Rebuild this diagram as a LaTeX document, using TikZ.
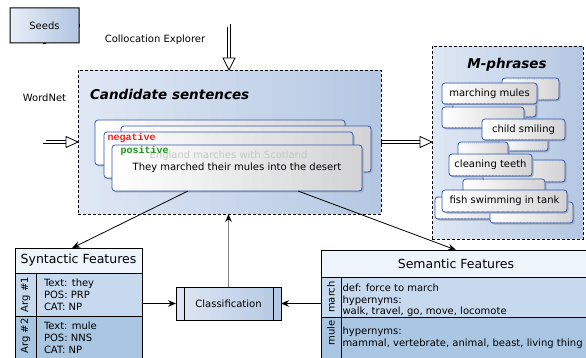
\documentclass[tikz,border=0pt]{standalone}
\usepackage{fontspec}
\setmainfont{DejaVu Sans}
\setmonofont{Liberation Mono}
\usetikzlibrary{arrows.meta,calc}
\definecolor{cardblue}{HTML}{3158B2}
\definecolor{bgl}{HTML}{DFE7F4}
\definecolor{bgr}{HTML}{B5C8E3}
\definecolor{seedl}{HTML}{E8EEF8}
\definecolor{seedr}{HTML}{B3C6E2}
\definecolor{hdrfill}{HTML}{EEF4FC}
\definecolor{rowa}{HTML}{C6D9EE}
\definecolor{rowb}{HTML}{A9C6E2}
\definecolor{negred}{HTML}{FF1A1A}
\definecolor{posgreen}{HTML}{1E961E}
\definecolor{shadowc}{HTML}{A3ACBA}
\definecolor{cardl}{HTML}{FFFFFF}
\definecolor{cardr}{HTML}{D4D4D6}
\tikzset{hgrad/.style 2 args={path picture={
  \foreach \i in {0,...,24}{
    \pgfmathsetmacro\gt{\i*100/24}
    \colorlet{gcol}{#2!\gt!#1}
    \fill[gcol] ($(path picture bounding box.north west)!{\i/25}!(path picture bounding box.north east)$)
      rectangle ($(path picture bounding box.south west)!{(\i+1.4)/25}!(path picture bounding box.south east)$);
  }}}}
\begin{document}
\begin{tikzpicture}[x=1pt,y=-1pt,
  every node/.style={inner sep=0pt,outer sep=0pt},
  txt/.style={font=\fontsize{10}{12}\selectfont},
  card/.style={draw=cardblue,line width=0.8pt,rounded corners=3pt,
    hgrad={cardl}{cardr},
    preaction={draw=none,fill=shadowc,transform canvas={xshift=1.5pt,yshift=-1.5pt}},
    anchor=north west,font=\fontsize{10}{12}\selectfont},
  bigbox/.style={draw,line width=0.8pt,dash pattern=on 3pt off 2pt,
    hgrad={bgl}{bgr},anchor=north west},
  dblout/.style={draw=black,line width=3.9pt},
  dblin/.style={draw=white,line width=2.3pt},
  tipshape/.style={draw=black,fill=white,line width=0.8pt,line join=miter},
  arr/.style={draw,line width=0.8pt,-{Stealth[length=8pt,width=6.5pt]}},
  cell/.style={draw,line width=0.8pt,anchor=north west},
  hdr/.style={cell,fill=hdrfill,font=\fontsize{12.5}{14}\selectfont},
  rowA/.style={cell,fill=rowa},
  rowB/.style={cell,fill=rowb},
  lab/.style={txt,rotate=90},
  mono/.style={font=\ttfamily\bfseries\fontsize{10}{12}\selectfont,anchor=west}
]
\useasboundingbox (0,0) rectangle (586,358);

% Seeds
\node[hgrad={seedl}{seedr},anchor=north west,minimum width=69pt,minimum height=35pt,txt] (seeds) at (10,8) {Seeds};
\fill[black,even odd rule]
  ([shift={(-0.5pt,0.5pt)}]seeds.north west) rectangle ([shift={(0.5pt,-0.5pt)}]seeds.south east)
  ([shift={(0.5pt,-0.5pt)}]seeds.north west) rectangle ([shift={(-0.5pt,0.5pt)}]seeds.south east);

% big boxes
\node[bigbox,minimum width=303pt,minimum height=144pt] (cand) at (78,70) {};
\node[anchor=west,font=\bfseries\itshape\fontsize{13.5}{16}\selectfont] (candt) at (90,94) {Candidate sentences};
\node[bigbox,minimum width=151pt,minimum height=193pt] (mph) at (432,46) {};
\node[font=\bfseries\itshape\fontsize{13.5}{16}\selectfont] (mpht) at (507,65) {M-phrases};

% connectors from seeds
\coordinate (cx) at (229,70);
\coordinate (k1) at (seeds.east -| cx);
\coordinate (k2) at (seeds.south |- cand.west);
\coordinate (mw) at (cand.east -| mph.west);
% filled version of the double lines
\fill[black] ([yshift=1.95pt]seeds.east) rectangle ([shift={(1.95pt,-1.95pt)}]k1);
\fill[black] ([shift={(-1.95pt,1.95pt)}]k1) rectangle ([shift={(1.95pt,11pt)}]cx);
\fill[black] ([xshift=-1.95pt]seeds.south) rectangle ([shift={(1.95pt,-1.95pt)}]k2);
\fill[black] ([shift={(-1.95pt,1.95pt)}]k2) rectangle ([shift={(-11pt,-1.95pt)}]cand.west);
\fill[white] ([shift={(0.6pt,1.15pt)}]seeds.east) rectangle ([shift={(1.15pt,-1.15pt)}]k1);
\fill[white] ([shift={(-1.15pt,1.15pt)}]k1) rectangle ([shift={(1.15pt,11pt)}]cx);
\fill[white] ([shift={(-1.15pt,-0.6pt)}]seeds.south) rectangle ([shift={(1.15pt,-1.15pt)}]k2);
\fill[white] ([shift={(-1.15pt,1.15pt)}]k2) rectangle ([shift={(-11pt,-1.15pt)}]cand.west);
% stroked version
\draw[dblout] (seeds.east) -- (k1) -- ([yshift=11.5pt]cx);
\draw[dblout] (seeds.south) -- (k2) -- ([xshift=-11.5pt]cand.west);
\draw[dblout] (cand.east) -- ([xshift=-11.5pt]mw);
\draw[dblin,shorten <=0.6pt] (seeds.east) -- (k1) -- ([yshift=11.5pt]cx);
\draw[dblin,shorten <=0.6pt] (seeds.south) -- (k2) -- ([xshift=-11.5pt]cand.west);
\draw[dblin,shorten <=0.8pt] (cand.east) -- ([xshift=-11.5pt]mw);
\draw[tipshape] (cx) -- ++(-6,-12) -- ++(12,0) -- cycle;
\draw[tipshape] (cand.west) -- ++(-12,-5.5) -- ++(0,11) -- cycle;
\draw[tipshape] (mw) -- ++(-12,-5.5) -- ++(0,11) -- cycle;
\node[txt] (colloc) at (155,40) {Collocation Explorer};
\node[txt] (wordnet) at (44.5,98) {WordNet};

% candidate cards
\node[card,minimum width=250pt,minimum height=45pt] (c1) at (95,120) {};
\node[card,minimum width=250pt,minimum height=46pt] (c2) at (121,126) {};
\node[card,minimum width=249pt,minimum height=46pt] (c3) at (104,132) {};
\node[mono,text=negred] (neg) at (107.5,137.5) {negative};
\node[card,minimum width=250pt,minimum height=46pt] (c4) at (112,145) {\raisebox{-2pt}{They marched their mules into the desert}};
\node[txt,text=black!22] (eng) at ([yshift=-1pt]c3.center) {England marches with Scotland};
\node[mono,text=posgreen] (pos) at (120.5,150.5) {positive};

% M-phrase cards
\node[card,minimum width=57pt,minimum height=22pt] (ma) at (502,78) {};
\node[card,minimum width=83pt,minimum height=21pt] (mb) at (453,96) {};
\node[card,minimum width=82pt,minimum height=21pt] (mc) at (442,107) {};
\node[card,minimum width=95pt,minimum height=21pt] (md) at (442,83) {marching mules};
\node[card,minimum width=49pt,minimum height=23pt] (me) at (499,128) {};
\node[card,minimum width=50pt,minimum height=23pt] (mf) at (458,142) {};
\node[card,minimum width=83pt,minimum height=21pt] (mg) at (482,119) {child smiling};
\node[card,minimum width=82pt,minimum height=22pt] (mh) at (483,160) {};
\node[card,minimum width=83pt,minimum height=22pt] (mi) at (449,154) {cleaning teeth};
\node[card,minimum width=82pt,minimum height=21pt] (mj) at (463,179) {};
\node[card,minimum width=82pt,minimum height=22pt] (mk) at (435,197) {};
\node[card,minimum width=83pt,minimum height=21pt] (ml) at (490,202) {};
\node[card,minimum width=125pt,minimum height=22pt] (mm) at (442,190) {fish swimming in tank};

% Syntactic table
\node[hdr,minimum width=127pt,minimum height=25pt] (synh) at (15,248) {Syntactic Features};
\node[rowA,minimum width=21pt,minimum height=43pt] (syn1l) at (15,273) {};
\node[rowA,minimum width=106pt,minimum height=43pt] (syn1) at (36,273) {};
\node[lab] (syn1lt) at (syn1l.center) {Arg \#1};
\node[txt,align=left,anchor=west] (syn1t) at (44,295) {Text: they\\POS: PRP\\CAT: NP};
\node[rowB,minimum width=21pt,minimum height=44pt] (syn2l) at (15,316) {};
\node[rowB,minimum width=106pt,minimum height=44pt] (syn2) at (36,316) {};
\node[lab] (syn2lt) at (25.5,336) {Arg \#2};
\node[txt,align=left,anchor=west] (syn2t) at (44,338) {Text: mule\\POS: NNS\\CAT: NP};

% Semantic table
\node[hdr,minimum width=270pt,minimum height=27pt] (semh) at (321,250) {Semantic Features};
\node[rowA,minimum width=20pt,minimum height=40pt] (sem1l) at (321,277) {};
\node[rowA,minimum width=250pt,minimum height=40pt] (sem1) at (341,277) {};
\node[lab] (sem1lt) at (sem1l.center) {march};
\node[txt,align=left,anchor=west,font=\fontsize{10}{11.5}\selectfont] (sem1t) at (342.5,300.5) {def: force to march\\hypernyms:\\walk, travel, go, move, locomote};
\node[rowB,minimum width=20pt,minimum height=44pt] (sem2l) at (321,317) {};
\node[rowB,minimum width=250pt,minimum height=44pt] (sem2) at (341,317) {};
\node[lab] (sem2lt) at (331,333) {mule};
\node[txt,align=left,anchor=west,font=\fontsize{10}{11.5}\selectfont] (sem2t) at (342.5,337.5) {hypernyms:\\mammal, vertebrate, animal, beast, living thing};

% Classification
\node[draw,line width=0.8pt,hgrad={bgl}{bgr},anchor=north west,
  minimum width=105pt,minimum height=33pt,txt] (cls) at (176,287) {Classification};
\draw[line width=0.8pt] ([xshift=8pt]cls.north west) -- ([xshift=8pt]cls.south west);
\draw[line width=0.8pt] ([xshift=-8pt]cls.north east) -- ([xshift=-8pt]cls.south east);

% arrows
\draw[arr] ($(c4.south west)!0.304!(c4.south east)$) -- ($(synh.north west)!0.45!(synh.north east)$);
\draw[arr] ($(c4.south west)!0.744!(c4.south east)$) -- ($(semh.north west)!0.5!(semh.north east)$);
\draw[draw=black!50,line width=1pt,-{Stealth[length=8pt,width=6.5pt,black]}] (cls.north) -- (cls.north |- cand.south);
\draw[arr] (cls.west -| syn1.east) -- (cls.west);
\draw[arr] (cls.east -| sem1l.west) -- (cls.east);
\end{tikzpicture}
\end{document}
